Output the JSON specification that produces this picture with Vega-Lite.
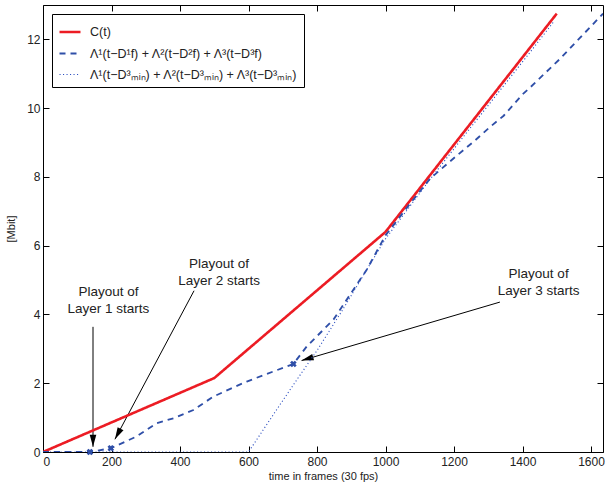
{
  "$schema": "https://vega.github.io/schema/vega-lite/v6.json",
  "width": 560,
  "height": 447,
  "autosize": "none",
  "padding": {"left": 43, "top": 5, "right": 2, "bottom": 35},
  "background": "white",
  "config": {
    "font": "Liberation Sans",
    "view": {"stroke": "black", "strokeWidth": 1},
    "axis": {
      "grid": false,
      "domain": false,
      "labelColor": "#222",
      "titleColor": "#222",
      "labelFontSize": 12,
      "titleFontSize": 11,
      "titleFontWeight": "normal",
      "format": "d"
    },
    "legend": {
      "orient": "top-left",
      "offset": 9,
      "padding": 6,
      "strokeColor": "black",
      "fillColor": "white",
      "symbolType": "stroke",
      "symbolSize": 441,
      "labelFontSize": 12.5,
      "labelColor": "#222",
      "labelLimit": 0,
      "labelOffset": 8,
      "rowPadding": 3
    }
  },
  "datasets": {
    "lines": [
      {"series": "C(t)", "t": 0, "v": 0},
      {"series": "C(t)", "t": 500, "v": 2.15},
      {"series": "C(t)", "t": 1000, "v": 6.4},
      {"series": "C(t)", "t": 1500, "v": 12.75},
      {"series": "Λ¹(t−D¹f) + Λ²(t−D²f) + Λ³(t−D³f)", "t": 0, "v": 0},
      {"series": "Λ¹(t−D¹f) + Λ²(t−D²f) + Λ³(t−D³f)", "t": 137, "v": 0},
      {"series": "Λ¹(t−D¹f) + Λ²(t−D²f) + Λ³(t−D³f)", "t": 198, "v": 0.11},
      {"series": "Λ¹(t−D¹f) + Λ²(t−D²f) + Λ³(t−D³f)", "t": 273, "v": 0.45},
      {"series": "Λ¹(t−D¹f) + Λ²(t−D²f) + Λ³(t−D³f)", "t": 332, "v": 0.84},
      {"series": "Λ¹(t−D¹f) + Λ²(t−D²f) + Λ³(t−D³f)", "t": 381, "v": 0.98},
      {"series": "Λ¹(t−D¹f) + Λ²(t−D²f) + Λ³(t−D³f)", "t": 439, "v": 1.22},
      {"series": "Λ¹(t−D¹f) + Λ²(t−D²f) + Λ³(t−D³f)", "t": 497, "v": 1.61},
      {"series": "Λ¹(t−D¹f) + Λ²(t−D²f) + Λ³(t−D³f)", "t": 550, "v": 1.85},
      {"series": "Λ¹(t−D¹f) + Λ²(t−D²f) + Λ³(t−D³f)", "t": 595, "v": 2.05},
      {"series": "Λ¹(t−D¹f) + Λ²(t−D²f) + Λ³(t−D³f)", "t": 672, "v": 2.34},
      {"series": "Λ¹(t−D¹f) + Λ²(t−D²f) + Λ³(t−D³f)", "t": 731, "v": 2.56},
      {"series": "Λ¹(t−D¹f) + Λ²(t−D²f) + Λ³(t−D³f)", "t": 770, "v": 3.07},
      {"series": "Λ¹(t−D¹f) + Λ²(t−D²f) + Λ³(t−D³f)", "t": 848, "v": 3.85},
      {"series": "Λ¹(t−D¹f) + Λ²(t−D²f) + Λ³(t−D³f)", "t": 945, "v": 5.3},
      {"series": "Λ¹(t−D¹f) + Λ²(t−D²f) + Λ³(t−D³f)", "t": 1000, "v": 6.3},
      {"series": "Λ¹(t−D¹f) + Λ²(t−D²f) + Λ³(t−D³f)", "t": 1070, "v": 7.2},
      {"series": "Λ¹(t−D¹f) + Λ²(t−D²f) + Λ³(t−D³f)", "t": 1130, "v": 7.95},
      {"series": "Λ¹(t−D¹f) + Λ²(t−D²f) + Λ³(t−D³f)", "t": 1200, "v": 8.55},
      {"series": "Λ¹(t−D¹f) + Λ²(t−D²f) + Λ³(t−D³f)", "t": 1260, "v": 9.05},
      {"series": "Λ¹(t−D¹f) + Λ²(t−D²f) + Λ³(t−D³f)", "t": 1305, "v": 9.45},
      {"series": "Λ¹(t−D¹f) + Λ²(t−D²f) + Λ³(t−D³f)", "t": 1345, "v": 9.78},
      {"series": "Λ¹(t−D¹f) + Λ²(t−D²f) + Λ³(t−D³f)", "t": 1400, "v": 10.4},
      {"series": "Λ¹(t−D¹f) + Λ²(t−D²f) + Λ³(t−D³f)", "t": 1422, "v": 10.6},
      {"series": "Λ¹(t−D¹f) + Λ²(t−D²f) + Λ³(t−D³f)", "t": 1509, "v": 11.43},
      {"series": "Λ¹(t−D¹f) + Λ²(t−D²f) + Λ³(t−D³f)", "t": 1597, "v": 12.35},
      {"series": "Λ¹(t−D¹f) + Λ²(t−D²f) + Λ³(t−D³f)", "t": 1635, "v": 12.75},
      {"series": "Λ¹(t−D³ₘᵢₙ) + Λ²(t−D³ₘᵢₙ) + Λ³(t−D³ₘᵢₙ)", "t": 0, "v": 0},
      {"series": "Λ¹(t−D³ₘᵢₙ) + Λ²(t−D³ₘᵢₙ) + Λ³(t−D³ₘᵢₙ)", "t": 600, "v": 0},
      {"series": "Λ¹(t−D³ₘᵢₙ) + Λ²(t−D³ₘᵢₙ) + Λ³(t−D³ₘᵢₙ)", "t": 680, "v": 1.2},
      {"series": "Λ¹(t−D³ₘᵢₙ) + Λ²(t−D³ₘᵢₙ) + Λ³(t−D³ₘᵢₙ)", "t": 741, "v": 2.1},
      {"series": "Λ¹(t−D³ₘᵢₙ) + Λ²(t−D³ₘᵢₙ) + Λ³(t−D³ₘᵢₙ)", "t": 800, "v": 2.95},
      {"series": "Λ¹(t−D³ₘᵢₙ) + Λ²(t−D³ₘᵢₙ) + Λ³(t−D³ₘᵢₙ)", "t": 872, "v": 4.09},
      {"series": "Λ¹(t−D³ₘᵢₙ) + Λ²(t−D³ₘᵢₙ) + Λ³(t−D³ₘᵢₙ)", "t": 945, "v": 5.3},
      {"series": "Λ¹(t−D³ₘᵢₙ) + Λ²(t−D³ₘᵢₙ) + Λ³(t−D³ₘᵢₙ)", "t": 1000, "v": 6.2},
      {"series": "Λ¹(t−D³ₘᵢₙ) + Λ²(t−D³ₘᵢₙ) + Λ³(t−D³ₘᵢₙ)", "t": 1130, "v": 7.93},
      {"series": "Λ¹(t−D³ₘᵢₙ) + Λ²(t−D³ₘᵢₙ) + Λ³(t−D³ₘᵢₙ)", "t": 1226, "v": 9.15},
      {"series": "Λ¹(t−D³ₘᵢₙ) + Λ²(t−D³ₘᵢₙ) + Λ³(t−D³ₘᵢₙ)", "t": 1325, "v": 10.4},
      {"series": "Λ¹(t−D³ₘᵢₙ) + Λ²(t−D³ₘᵢₙ) + Λ³(t−D³ₘᵢₙ)", "t": 1420, "v": 11.6},
      {"series": "Λ¹(t−D³ₘᵢₙ) + Λ²(t−D³ₘᵢₙ) + Λ³(t−D³ₘᵢₙ)", "t": 1490, "v": 12.5}
    ],
    "markers": [
      {"t": 137, "v": 0},
      {"t": 198, "v": 0.11},
      {"t": 731, "v": 2.56}
    ],
    "notes": [
      {"t": 191, "v": 4.64, "label": "Playout of\nLayer 1 starts"},
      {"t": 514, "v": 5.46, "label": "Playout of\nLayer 2 starts"},
      {"t": 1447, "v": 5.19, "label": "Playout of\nLayer 3 starts"}
    ],
    "arrows": [
      {"t": 146, "v": 3.64, "t2": 146, "v2": 0.15},
      {"t": 441, "v": 4.69, "t2": 210, "v2": 0.37},
      {"t": 1334, "v": 4.36, "t2": 755, "v2": 2.66}
    ]
  },
  "layer": [
    {
      "data": {"name": "arrows"},
      "mark": {"type": "rule", "color": "black", "strokeWidth": 1},
      "encoding": {
        "x": {"field": "t", "type": "quantitative", "scale": {"domain": [0, 1635], "nice": false}, "axis": null},
        "y": {"field": "v", "type": "quantitative", "scale": {"domain": [0, 13], "nice": false}, "axis": null},
        "x2": {"field": "t2"},
        "y2": {"field": "v2"}
      }
    },
    {
      "data": {"values": [{"t": 146, "v": 0.15}]},
      "mark": {"type": "point", "shape": "M0,0 L-0.55,2 L0.55,2 Z", "filled": true, "color": "black", "opacity": 1, "size": 144, "angle": 180},
      "encoding": {
        "x": {"field": "t", "type": "quantitative", "axis": null},
        "y": {"field": "v", "type": "quantitative", "axis": null}
      }
    },
    {
      "data": {"values": [{"t": 210, "v": 0.37}]},
      "mark": {"type": "point", "shape": "M0,0 L-0.55,2 L0.55,2 Z", "filled": true, "color": "black", "opacity": 1, "size": 144, "angle": 208},
      "encoding": {
        "x": {"field": "t", "type": "quantitative", "axis": null},
        "y": {"field": "v", "type": "quantitative", "axis": null}
      }
    },
    {
      "data": {"values": [{"t": 755, "v": 2.66}]},
      "mark": {"type": "point", "shape": "M0,0 L-0.55,2 L0.55,2 Z", "filled": true, "color": "black", "opacity": 1, "size": 144, "angle": 253.6},
      "encoding": {
        "x": {"field": "t", "type": "quantitative", "axis": null},
        "y": {"field": "v", "type": "quantitative", "axis": null}
      }
    },
    {
      "data": {"name": "lines"},
      "mark": {"type": "line", "clip": true},
      "encoding": {
        "x": {
          "field": "t", "type": "quantitative",
          "axis": {"orient": "bottom", "values": [0, 200, 400, 600, 800, 1000, 1200, 1400, 1600], "title": "time in frames (30 fps)", "labelPadding": 4, "titlePadding": 3, "tickSize": 6, "tickColor": "#000", "offset": -6}
        },
        "y": {
          "field": "v", "type": "quantitative",
          "axis": {"orient": "left", "values": [0, 2, 4, 6, 8, 10, 12], "title": "[Mbit]", "labelPadding": 3, "titlePadding": 10, "tickSize": 6, "tickColor": "#000", "offset": -6}
        },
        "color": {
          "field": "series", "type": "nominal",
          "scale": {"domain": ["C(t)", "Λ¹(t−D¹f) + Λ²(t−D²f) + Λ³(t−D³f)", "Λ¹(t−D³ₘᵢₙ) + Λ²(t−D³ₘᵢₙ) + Λ³(t−D³ₘᵢₙ)"], "range": ["#ec1c24", "#2f4fa8", "#2d4fc0"]},
          "legend": {"title": null}
        },
        "strokeDash": {
          "field": "series", "type": "nominal",
          "scale": {"domain": ["C(t)", "Λ¹(t−D¹f) + Λ²(t−D²f) + Λ³(t−D³f)", "Λ¹(t−D³ₘᵢₙ) + Λ²(t−D³ₘᵢₙ) + Λ³(t−D³ₘᵢₙ)"], "range": [[1, 0], [6, 5], [1.1, 2.4]]},
          "legend": {"title": null}
        },
        "strokeWidth": {
          "field": "series", "type": "nominal",
          "scale": {"domain": ["C(t)", "Λ¹(t−D¹f) + Λ²(t−D²f) + Λ³(t−D³f)", "Λ¹(t−D³ₘᵢₙ) + Λ²(t−D³ₘᵢₙ) + Λ³(t−D³ₘᵢₙ)"], "range": [2.6, 1.1, 1.1]},
          "legend": {"title": null}
        }
      }
    },
    {
      "data": {"name": "markers"},
      "mark": {"type": "point", "shape": "cross", "angle": 45, "filled": true, "color": "#2f4fa8", "opacity": 1, "size": 45},
      "encoding": {
        "x": {"field": "t", "type": "quantitative", "axis": null},
        "y": {"field": "v", "type": "quantitative", "axis": null}
      }
    },
    {
      "data": {"name": "notes"},
      "mark": {"type": "text", "lineBreak": "\n", "fontSize": 13.5, "lineHeight": 17, "align": "center", "baseline": "middle", "color": "#222"},
      "encoding": {
        "x": {"field": "t", "type": "quantitative", "axis": {"orient": "top", "values": [0, 200, 400, 600, 800, 1000, 1200, 1400, 1600], "labels": false, "title": null, "tickSize": 6, "tickColor": "#000", "offset": -6}},
        "y": {"field": "v", "type": "quantitative", "axis": {"orient": "right", "values": [0, 2, 4, 6, 8, 10, 12], "labels": false, "title": null, "tickSize": 6, "tickColor": "#000", "offset": -6}},
        "text": {"field": "label"}
      }
    }
  ],
  "resolve": {"scale": {"x": "shared", "y": "shared"}}
}
